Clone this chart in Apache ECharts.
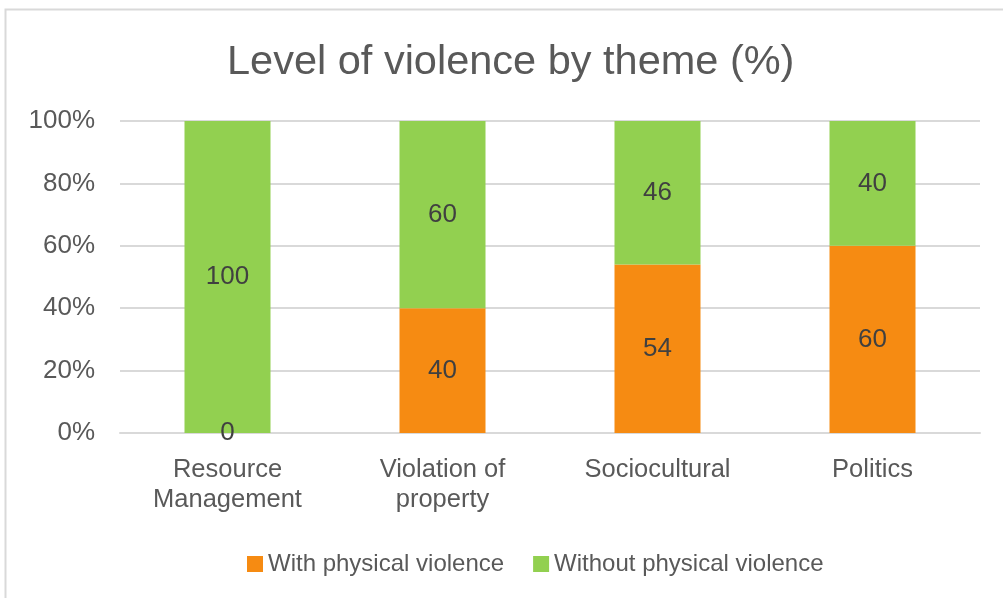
<!DOCTYPE html>
<html>
<head>
<meta charset="utf-8">
<script src="https://cdn.jsdelivr.net/npm/echarts@6/dist/echarts.min.js"></script>
<style>html,body{margin:0;padding:0;background:#fff}#c{width:1003px;height:598px}</style>
</head>
<body>
<div id="c"></div>
<script>
var categories = ['Resource\nManagement', 'Violation of\nproperty', 'Sociocultural', 'Politics'];
var withViolence = [0, 40, 54, 60];
var withoutViolence = [100, 60, 46, 40];
var yTicks = [0, 20, 40, 60, 80, 100];
var seriesNames = ['With physical violence', 'Without physical violence'];

var chart = echarts.init(document.getElementById('c'));
var font = 'Liberation Sans, Arial, sans-serif';
var labelStyle = {show: true, position: 'inside', color: '#404040', fontSize: 26, fontFamily: font};
chart.setOption({
  animation: false,
  graphic: [{type: 'rect', shape: {x: 5.5, y: 9.5, width: 1020, height: 620}, style: {fill: 'none', stroke: '#d9d9d9', lineWidth: 2}}],
  title: {text: 'Level of violence by theme (%)', left: 222, top: 37, textStyle: {color: '#595959', fontSize: 41.5, fontWeight: 'normal', fontFamily: font}},
  grid: {left: 120, right: 23, top: 121, bottom: 165},
  legend: {bottom: 17, left: 242, itemWidth: 16, itemHeight: 16, itemGap: 29, icon: 'rect',
    textStyle: {color: '#595959', fontSize: 24, fontFamily: font}, data: seriesNames},
  xAxis: {type: 'category', data: categories,
    axisLine: {lineStyle: {color: '#d9d9d9', width: 2}}, axisTick: {show: false},
    axisLabel: {color: '#595959', fontSize: 25.5, fontFamily: font, lineHeight: 30, margin: 22}},
  yAxis: {type: 'value', min: 0, max: 100, interval: 20,
    axisLine: {show: false}, axisTick: {show: false},
    splitLine: {lineStyle: {color: '#d9d9d9', width: 2}},
    axisLabel: {color: '#595959', fontSize: 26, fontFamily: font, margin: 25,
      formatter: function (v) { return yTicks.indexOf(v) >= 0 ? v + '%' : ''; }}},
  series: [
    {name: seriesNames[0], type: 'bar', stack: 's', data: withViolence, barWidth: '40%', itemStyle: {color: '#F68B12'}, label: labelStyle},
    {name: seriesNames[1], type: 'bar', stack: 's', data: withoutViolence, barWidth: '40%', itemStyle: {color: '#92D050'}, label: labelStyle}
  ]
});
</script>
</body>
</html>
